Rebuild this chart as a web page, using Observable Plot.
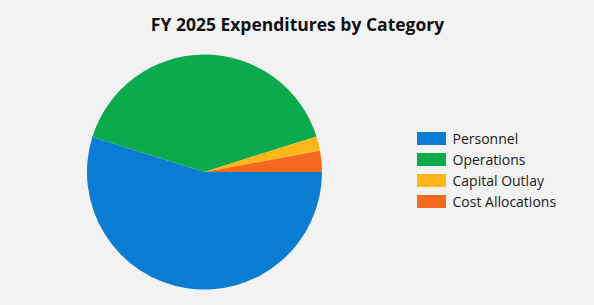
<!DOCTYPE html>
<html>
<head>
<meta charset="utf-8">
<script src="https://cdn.jsdelivr.net/npm/d3@7"></script>
<script src="https://cdn.jsdelivr.net/npm/@observablehq/plot@0.6"></script>
<style>
  html, body { margin: 0; padding: 0; background: #f2f2f2; }
  #chart svg { display: block; background: #f2f2f2; }
</style>
</head>
<body>
<div id="chart"></div>
<script>
const title = "FY 2025 Expenditures by Category";
const categories = ["Personnel", "Operations", "Capital Outlay", "Cost Allocations"];
const shares = [54.8, 40.3, 2.0, 2.9];
const colors = ["#0A7DD3", "#0BAA4D", "#FDB719", "#F4691F"];

const W = 594, H = 305;
const font = "'Open Sans', 'Noto Sans', sans-serif";

function pieMark(index, scales) {
  const cx = scales.x(204.5), cy = scales.y(172);
  const r = scales.x(204.5 + 117.5) - cx;
  const arcs = d3.pie().sort(null)
    .startAngle(Math.PI / 2).endAngle(Math.PI / 2 + 2 * Math.PI)(shares);
  const g = d3.create("svg:g").attr("transform", `translate(${cx},${cy})`);
  g.selectAll("path").data(arcs).join("path")
    .attr("d", d3.arc().innerRadius(0).outerRadius(r))
    .attr("fill", (d, i) => scales.color(categories[i]));
  return g.node();
}

const rows = categories.map((c, i) => ({category: c, row: i}));

const chart = Plot.plot({
  width: W,
  height: H,
  margin: 0,
  style: {background: "#f2f2f2", fontFamily: font},
  x: {domain: [0, W], range: [0, W], axis: null},
  y: {domain: [0, H], range: [0, H], axis: null},
  color: {domain: categories, range: colors},
  marks: [
    Plot.rect(rows, {
      x1: 417, x2: 446,
      y1: d => 132 + 21 * d.row, y2: d => 145 + 21 * d.row,
      fill: "category"
    }),
    Plot.text(rows, {
      x: 452, y: d => 139 + 21 * d.row, text: "category",
      textAnchor: "start", fontSize: 14, fill: "#1a1a1a"
    }),
    pieMark,
    Plot.text([title], {
      x: 297, y: 25, text: d => d, fontSize: 17.5, fontWeight: "bold", fill: "#111"
    })
  ]
});
document.getElementById("chart").appendChild(chart);
</script>
</body>
</html>
